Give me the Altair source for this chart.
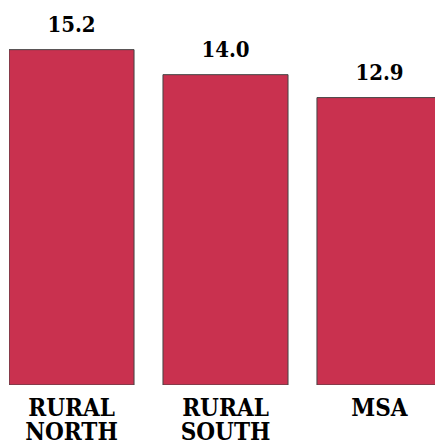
import altair as alt
import pandas as pd

categories = ["RURAL NORTH", "RURAL SOUTH", "MSA"]
values = [15.2, 14.0, 12.9]

df = pd.DataFrame({"cat": categories, "val": values})

Y_MIN = -0.88
Y_MAX = 17.58
FONT = "DejaVu Serif Condensed"

x = alt.X("cat:N", sort=categories,
          scale=alt.Scale(range=[0, 433], paddingInner=0.188, paddingOuter=0),
          axis=alt.Axis(title=None, domain=False, ticks=False,
                        labelAngle=0, labelFont=FONT,
                        labelFontWeight="bold", labelFontSize=24,
                        labelColor="#000000", labelPadding=11,
                        labelBaseline="top", labelLineHeight=24,
                        labelExpr="split(datum.label, ' ')"))
y = alt.Y("val:Q", scale=alt.Scale(domain=[Y_MIN, Y_MAX], nice=False, zero=False),
          axis=None)

bars = alt.Chart(df).mark_bar(color="#C9314F", stroke="#444444", strokeWidth=1,
                              clip=True).encode(
    x=x, y=y, y2=alt.datum(Y_MIN)
)

labels = alt.Chart(df).mark_text(font=FONT, fontWeight="bold",
                                 fontSize=22, dy=-18, baseline="alphabetic",
                                 color="#000000").encode(
    x=alt.X("cat:N", sort=categories), y="val:Q",
    text=alt.Text("val:Q", format=".1f")
)

chart = alt.layer(bars, labels).properties(
    width=426, height=385,
    autosize=alt.AutoSizeParams(type="none"),
    padding={"left": 9, "top": 0, "right": 0, "bottom": 59},
    background="#ffffff"
).configure_view(stroke=None)

chart.save("out.html", embed_options={"renderer": "svg", "actions": False})
